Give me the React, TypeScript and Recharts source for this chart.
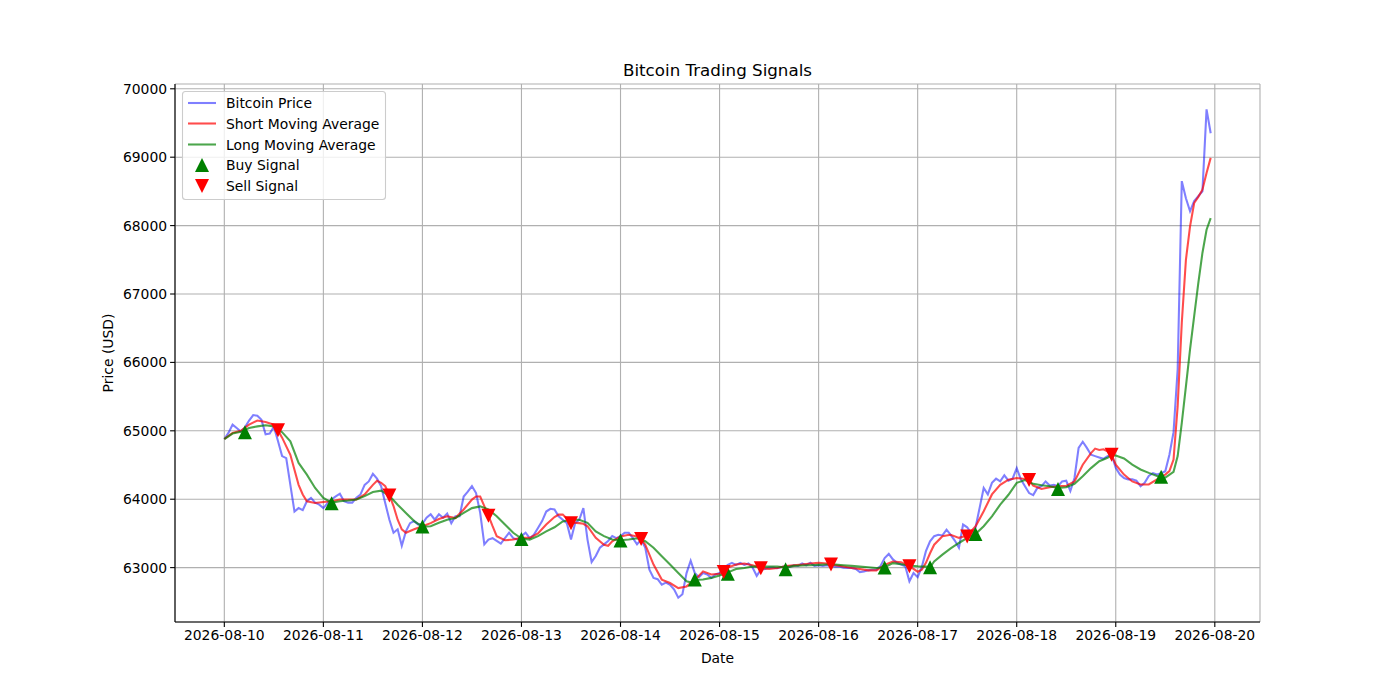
import React from 'react';
import {
  ComposedChart,
  Line,
  Scatter,
  XAxis,
  YAxis,
  CartesianGrid,
} from 'recharts';

// Hourly Bitcoin price, 2026-08-10 00:00 .. 2026-08-19 23:00 (hour index 0..239)
const PRICE: number[] = [
  64880, 64970, 65090, 65040, 64990, 65050, 65150, 65230, 65220, 65160, 64950, 64960,
  65060, 64850, 64630, 64600, 64210, 63820, 63870, 63840, 63970, 64020, 63950, 63920,
  63870, 63940, 64000, 64040, 64080, 63970, 63950, 63950, 64020, 64070, 64210, 64260,
  64370, 64300, 64190, 63940, 63700, 63510, 63560, 63320, 63530, 63650, 63680, 63630,
  63640, 63730, 63780, 63700, 63780, 63730, 63790, 63650, 63750, 63750, 64040, 64110,
  64190, 64090, 63800, 63340, 63410, 63430, 63390, 63350, 63430, 63510, 63430, 63410,
  63460, 63510, 63430, 63480, 63580, 63680, 63820, 63860, 63850, 63750, 63700, 63650,
  63410, 63650, 63700, 63870, 63410, 63080, 63170, 63290, 63340, 63390, 63460, 63430,
  63460, 63510, 63510, 63430, 63340, 63410, 63290, 62970, 62850, 62830, 62750, 62780,
  62750, 62680, 62560, 62610, 62920, 63100, 62920, 62860, 62920, 62900, 62850, 62900,
  62920, 62990, 63040, 63070, 63040, 63070, 63040, 63060, 63000, 62880, 62970, 62980,
  63000, 63000, 62990, 63010, 63020, 63015, 63035, 63025, 63060, 63035, 63070, 63025,
  63035, 63025, 63035, 63025, 63015, 63015, 63000, 62995, 62995, 62980, 62935, 62945,
  62960, 62970, 62970, 63025, 63140, 63200, 63120, 63070, 63045, 63020, 62800, 62920,
  62860, 63010, 63240, 63385, 63460, 63480, 63470, 63555, 63480, 63395, 63290, 63630,
  63590, 63500, 63580, 63870, 64165, 64070, 64240, 64300, 64260, 64350, 64270, 64300,
  64455, 64290, 64190, 64090, 64060, 64165, 64190, 64260, 64200, 64210, 64190, 64260,
  64270, 64120, 64310, 64750, 64840, 64750, 64650, 64630, 64610, 64590, 64630, 64650,
  64460, 64360, 64310, 64290, 64290, 64270, 64190, 64240, 64340, 64380, 64360, 64380,
  64410, 64650, 64980, 65900, 68650, 68400, 68210, 68360, 68430, 68500, 69700, 69350,
];

// Short moving average, read at these hours
const SHORT_HOURS: number[] = [
  0, 2, 4, 6, 8, 10, 12, 13, 14, 16, 18, 19, 20, 22, 24, 26, 28, 30, 32, 34, 36, 37, 38, 39,
  40, 41, 42, 43, 44, 46, 48, 50, 52, 54, 56, 58, 60, 61, 62, 63, 64, 65, 66, 68, 70, 72, 74,
  76, 78, 80, 81, 82, 84, 86, 87, 88, 90, 92, 93, 94, 96, 98, 100, 101, 102, 104, 106, 108,
  110, 112, 114, 116, 118, 120, 121, 122, 124, 126, 128, 130, 132, 134, 136, 138, 140, 142,
  144, 146, 147, 148, 150, 152, 154, 156, 158, 160, 162, 164, 166, 168, 169, 170, 171, 172,
  174, 176, 178, 180, 182, 184, 186, 188, 190, 192, 194, 195, 196, 198, 200, 202, 204, 206,
  208, 210, 211, 212, 213, 214, 215, 216, 218, 220, 222, 224, 226, 227, 228, 229, 230, 231,
  232, 233, 234, 235, 236, 237, 238, 239,
];
const SHORT_VALUES: number[] = [
  64880, 64970, 65000, 65090, 65150, 65130, 65090, 65010, 64900, 64650, 64210, 64070, 63970,
  63945, 63960, 63970, 63995, 63995, 63995, 64070, 64210, 64270, 64240, 64190,
  64060, 63900, 63700, 63560, 63510, 63560, 63605, 63650, 63710, 63750, 63725, 63850, 63995,
  64040, 64040, 63900, 63760, 63605, 63460, 63400, 63410, 63435, 63435,
  63500, 63630, 63740, 63775, 63775, 63660, 63650, 63640, 63605, 63435, 63335, 63320, 63385,
  63455, 63480, 63455, 63420, 63335, 63045, 62825, 62775,
  62700, 62725, 62820, 62945, 62900, 62910, 62935, 63000, 63045, 63060, 63035, 62995, 62980,
  62995, 63025, 63035, 63045, 63060,
  63070, 63060, 63050, 63035, 63015, 62995, 62980, 62960, 62960, 63040, 63090, 63080, 63020,
  62940, 62970, 63070, 63210, 63335,
  63460, 63480, 63435, 63470, 63600, 63825, 64070, 64210, 64285, 64310, 64295, 64275, 64200,
  64150, 64175, 64190, 64195, 64260,
  64505, 64675, 64740, 64720, 64730, 64700, 64650, 64505, 64360, 64260, 64215, 64215, 64290,
  64330, 64360, 64410, 64580, 65360,
  66580, 67500, 67990, 68330, 68420, 68525, 68770, 68990,
];

// Long moving average, read at these hours
const LONG_HOURS: number[] = [
  0, 2, 4, 6, 8, 10, 12, 14, 16, 18, 20, 22, 24, 26, 28, 30, 32, 34, 36, 38, 40, 42, 44, 46,
  48, 50, 52, 54, 56, 58, 60, 62, 64, 66, 68, 70, 72, 74, 76, 78, 80, 82, 84, 86, 88, 90, 92,
  94, 96, 98, 100, 102, 104, 106, 108, 110, 112, 113, 114, 116, 118, 120, 122, 124, 126, 128,
  130, 132, 134, 136, 138, 140, 142, 144, 146, 148, 150, 152, 154, 156, 158, 160, 162, 164,
  166, 168, 170, 171, 172, 174, 176, 178, 180, 182, 184, 186, 188, 190, 192, 194, 196, 198,
  200, 202, 204, 206, 208, 210, 212, 214, 215, 216, 218, 220, 222, 224, 226, 228, 230, 231,
  232, 233, 234, 235, 236, 237, 238, 239,
];
const LONG_VALUES: number[] = [
  64880, 64960, 64985, 65040, 65065, 65080, 65065, 64980, 64845, 64530, 64360, 64165, 64020,
  63950, 63970, 63980, 63995, 64045, 64105, 64125, 64050, 63920, 63800, 63680,
  63600, 63605, 63655, 63700, 63725, 63800, 63870, 63895, 63850, 63750, 63630, 63510, 63425,
  63410, 63460, 63530, 63590, 63675, 63700, 63700, 63655, 63530, 63460,
  63410, 63400, 63410, 63430, 63385, 63290, 63165, 63045, 62920, 62800, 62785, 62820, 62825,
  62850, 62885, 62930, 62980, 62995, 63015,
  63015, 63015, 63015, 63000, 63025, 63030, 63035, 63040, 63045, 63045, 63035, 63025, 63015,
  63005, 62995, 63005, 63065, 63050,
  63030, 63020, 63015, 63005, 63090, 63190, 63280, 63360, 63435, 63490, 63605, 63750, 63920,
  64065, 64240, 64280, 64225, 64205,
  64190, 64165, 64175, 64225, 64335, 64455, 64555, 64605, 64645, 64640, 64595, 64505, 64435,
  64385, 64340, 64315, 64400, 64630,
  65115, 65650, 66190, 66675, 67160, 67600, 67940, 68110,
];

// Trading signals
const BUY_HOURS: number[] = [5, 26, 48, 72, 96, 114, 122, 136, 160, 171, 182, 202, 227];
const BUY_VALUES: number[] = [64980, 63940, 63600, 63420, 63395, 62825, 62910, 62975, 63000, 63005, 63490, 64150, 64330];
const SELL_HOURS: number[] = [13, 40, 64, 84, 101, 121, 130, 147, 166, 180, 195, 215];
const SELL_VALUES: number[] = [65010, 64055, 63760, 63650, 63420, 62935, 62990, 63045, 63020, 63455, 64280, 64650];

// Axis ticks
const X_TICKS: number[] = [0, 24, 48, 72, 96, 120, 144, 168, 192, 216, 240];
const X_TICK_LABELS: string[] = [
  '2026-08-10', '2026-08-11', '2026-08-12', '2026-08-13', '2026-08-14', '2026-08-15',
  '2026-08-16', '2026-08-17', '2026-08-18', '2026-08-19', '2026-08-20',
];
const Y_TICKS: number[] = [63000, 64000, 65000, 66000, 67000, 68000, 69000, 70000];

const X_DOMAIN: [number, number] = [-11.95, 250.95];
const Y_DOMAIN: [number, number] = [62205, 70070];

const shortMap = new Map<number, number>(SHORT_HOURS.map((h, i) => [h, SHORT_VALUES[i]]));
const longMap = new Map<number, number>(LONG_HOURS.map((h, i) => [h, LONG_VALUES[i]]));

const table = PRICE.map((p, h) => ({
  h,
  price: p,
  short: shortMap.has(h) ? (shortMap.get(h) as number) : null,
  long: longMap.has(h) ? (longMap.get(h) as number) : null,
}));

const buyData = BUY_HOURS.map((h, i) => ({ h, v: BUY_VALUES[i] }));
const sellData = SELL_HOURS.map((h, i) => ({ h, v: SELL_VALUES[i] }));

const FONT = 'DejaVu Sans';
const TICK_STYLE = { fill: '#000', fontSize: 13.9, fontFamily: FONT };

const UpTriangle = (props: any) => {
  const { cx, cy } = props;
  if (cx == null || cy == null) return null;
  const s = 7;
  return <polygon points={`${cx},${cy - s} ${cx - s},${cy + s} ${cx + s},${cy + s}`} fill="#008000" />;
};
const DownTriangle = (props: any) => {
  const { cx, cy } = props;
  if (cx == null || cy == null) return null;
  const s = 7;
  return <polygon points={`${cx},${cy + s} ${cx - s},${cy - s} ${cx + s},${cy - s}`} fill="#ff0000" />;
};

const legendRows = [
  { label: 'Bitcoin Price', kind: 'line', color: '#0000ff', opacity: 0.5 },
  { label: 'Short Moving Average', kind: 'line', color: '#ff0000', opacity: 0.7 },
  { label: 'Long Moving Average', kind: 'line', color: '#008000', opacity: 0.7 },
  { label: 'Buy Signal', kind: 'up', color: '#008000', opacity: 1 },
  { label: 'Sell Signal', kind: 'down', color: '#ff0000', opacity: 1 },
];
const LEGEND_ROW_Y = [103, 123.5, 144.5, 165, 186];

export default function App() {
  return (
    <div style={{ position: 'absolute', left: 0, top: 0, width: 1400, height: 700, background: '#fff' }}>
      <ComposedChart
        width={1400}
        height={700}
        data={table}
        margin={{ top: 84, right: 140, bottom: 48, left: 115 }}
      >
        <CartesianGrid stroke="#b0b0b0" strokeWidth={1.1} />
        <XAxis
          dataKey="h"
          type="number"
          domain={X_DOMAIN}
          ticks={X_TICKS}
          interval={0}
          allowDataOverflow
          tickFormatter={(v: number) => X_TICK_LABELS[X_TICKS.indexOf(v)] ?? ''}
          tick={TICK_STYLE}
          tickSize={4.9}
          tickMargin={3}
          height={30}
          axisLine={{ stroke: '#000', strokeWidth: 1.1 }}
          tickLine={{ stroke: '#000', strokeWidth: 1.1 }}
        />
        <XAxis
          xAxisId="top"
          orientation="top"
          type="number"
          domain={X_DOMAIN}
          allowDataOverflow
          tick={false}
          tickLine={false}
          height={0}
          axisLine={{ stroke: '#000', strokeWidth: 1.1 }}
        />
        <YAxis
          type="number"
          domain={Y_DOMAIN}
          ticks={Y_TICKS}
          interval={0}
          allowDataOverflow
          tickFormatter={(v: number) => String(v)}
          tick={TICK_STYLE}
          tickSize={4.9}
          tickMargin={3}
          width={60}
          axisLine={{ stroke: '#000', strokeWidth: 1.1 }}
          tickLine={{ stroke: '#000', strokeWidth: 1.1 }}
        />
        <YAxis
          yAxisId="right"
          orientation="right"
          type="number"
          domain={Y_DOMAIN}
          allowDataOverflow
          tick={false}
          tickLine={false}
          width={0}
          axisLine={{ stroke: '#000', strokeWidth: 1.1 }}
        />
        <Line
          dataKey="price"
          type="linear"
          stroke="#0000ff"
          strokeOpacity={0.5}
          strokeWidth={2.08}
          dot={false}
          activeDot={false}
          isAnimationActive={false}
        />
        <Line
          dataKey="short"
          type="linear"
          stroke="#ff0000"
          strokeOpacity={0.7}
          strokeWidth={2.08}
          dot={false}
          activeDot={false}
          connectNulls
          isAnimationActive={false}
        />
        <Line
          dataKey="long"
          type="linear"
          stroke="#008000"
          strokeOpacity={0.7}
          strokeWidth={2.08}
          dot={false}
          activeDot={false}
          connectNulls
          isAnimationActive={false}
        />
        <Scatter data={buyData} dataKey="v" shape={UpTriangle} isAnimationActive={false} />
        <Scatter data={sellData} dataKey="v" shape={DownTriangle} isAnimationActive={false} />
      </ComposedChart>
      <svg
        width={1400}
        height={700}
        style={{ position: 'absolute', left: 0, top: 0, pointerEvents: 'none' }}
        fontFamily={FONT}
      >
        <text x={717.5} y={76} textAnchor="middle" fontSize={16.7} fill="#000">
          Bitcoin Trading Signals
        </text>
        <text x={717.5} y={663} textAnchor="middle" fontSize={13.9} fill="#000">
          Date
        </text>
        <text
          x={0}
          y={0}
          transform="translate(113,353) rotate(-90)"
          textAnchor="middle"
          fontSize={13.9}
          fill="#000"
        >
          Price (USD)
        </text>
        <rect x={182.5} y={91.5} width={203} height={108} rx={3} fill="#fff" fillOpacity={0.8} stroke="#cccccc" strokeWidth={1.1} />
        {legendRows.map((r, i) => {
          const y = LEGEND_ROW_Y[i];
          return (
            <g key={r.label}>
              {r.kind === 'line' && (
                <line x1={188} x2={216} y1={y} y2={y} stroke={r.color} strokeOpacity={r.opacity} strokeWidth={2.08} />
              )}
              {r.kind === 'up' && (
                <polygon points={`202,${y - 7} 195,${y + 7} 209,${y + 7}`} fill={r.color} />
              )}
              {r.kind === 'down' && (
                <polygon points={`202,${y + 7} 195,${y - 7} 209,${y - 7}`} fill={r.color} />
              )}
              <text x={226} y={y + 5} fontSize={13.9} fill="#000">
                {r.label}
              </text>
            </g>
          );
        })}
      </svg>
    </div>
  );
}
